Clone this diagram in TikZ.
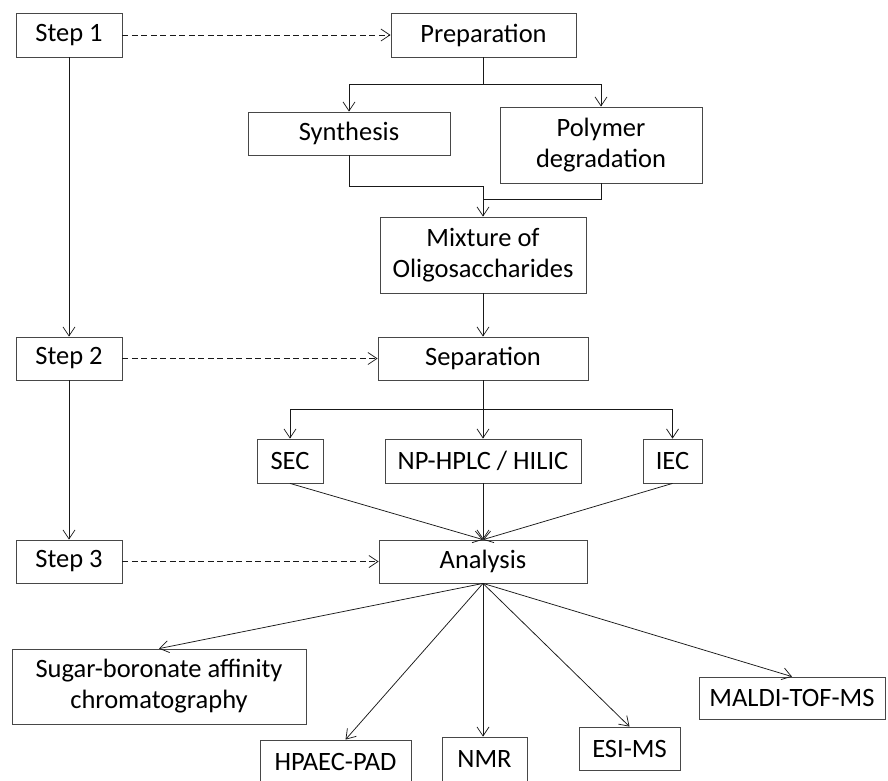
\documentclass[tikz,border=0pt]{standalone}
\usepackage{fontspec}
\setmainfont{Carlito}
\usetikzlibrary{arrows.meta,calc}
\begin{document}
\begin{tikzpicture}[x=1pt,y=-1pt,
  box/.style={draw=black!72, line width=0.8pt, align=center, inner sep=0pt,
    font=\fontsize{26.5}{31}\selectfont},
  ln/.style={line width=0.75pt, draw=black!90},
  arr/.style={ln, -{Straight Barb[length=9pt,width=12pt]}},
  darr/.style={arr, dash pattern=on 6pt off 3.5pt}]
\useasboundingbox (0,0) rectangle (888,780);
% step column
\node[box, minimum width=106pt, minimum height=44pt] (s1) at (69,35) {Step 1};
\node[box, minimum width=106pt, minimum height=43pt] (s2) at (69,358.5) {Step 2};
\node[box, minimum width=106pt, minimum height=43pt] (s3) at (69,561.5) {Step 3};
% main flow
\node[box, minimum width=185pt, minimum height=44pt] (prep) at (483.5,35) {Preparation};
\node[box, minimum width=202pt, minimum height=43pt] (syn) at (349,133.5) {Synthesis};
\node[box, minimum width=202pt, minimum height=76pt] (poly) at (601,145) {Polymer\\degradation};
\node[box, minimum width=206pt, minimum height=76pt] (mix) at (483,255) {Mixture of\\Oligosaccharides};
\node[box, minimum width=210pt, minimum height=43pt] (sep) at (483,358.5) {Separation};
\node[box, minimum width=66pt, minimum height=44pt] (sec) at (290,461) {SEC};
\node[box, minimum width=196pt, minimum height=44pt] (np) at (483,461) {NP-HPLC / HILIC};
\node[box, minimum width=59pt, minimum height=44pt] (iec) at (672.5,461) {IEC};
\node[box, minimum width=208pt, minimum height=43pt] (ana) at (483,561.5) {Analysis};
\node[box, minimum width=294pt, minimum height=75pt] (sug) at (159,686.5) {Sugar-boronate affinity\\chromatography};
\node[box, minimum width=151pt, minimum height=44pt] (hpa) at (335.5,762) {HPAEC-PAD};
\node[box, minimum width=85pt, minimum height=44pt] (nmr) at (484.5,759) {NMR};
\node[box, minimum width=101pt, minimum height=43pt] (esi) at (629.5,748.5) {ESI-MS};
\node[box, minimum width=186pt, minimum height=42pt] (mal) at (792,698) {MALDI-TOF-MS};
% step connectors
\draw[arr] (s1) -- (s2);
\draw[arr] (s2) -- (s3);
\draw[darr] (s1) -- (prep);
\draw[darr] (s2) -- (sep);
\draw[darr] (s3) -- (ana);
% preparation
\draw[ln] (prep.south) -- ++(0,27) coordinate (pj);
\draw[arr] (pj) -| (syn.north);
\draw[arr] (pj) -| (poly.north);
\draw[arr] (syn.south) -- ++(0,31) -| (mix.north);
\draw[ln] (poly.south) |- ($(mix.north)+(0,-17)$);
\draw[arr] (mix) -- (sep);
% separation
\draw[arr] (sep) -- (np);
\coordinate (sj) at ($(sep.south)+(0,29)$);
\draw[arr] (sj) -| (sec.north);
\draw[arr] (sj) -| (iec.north);
\draw[arr] (sec.south) -- (ana.north);
\draw[arr] (np.south) -- (ana.north);
\draw[arr] (iec.south) -- (ana.north);
% analysis
\draw[arr] (ana.south) -- (sug.north);
\draw[arr] (ana.south) -- ([xshift=10pt]hpa.north);
\draw[arr] (ana.south) -- (ana.south |- nmr.north);
\draw[arr] (ana.south) -- (esi.north);
\draw[arr] (ana.south) -- (mal.north);
\end{tikzpicture}
\end{document}
